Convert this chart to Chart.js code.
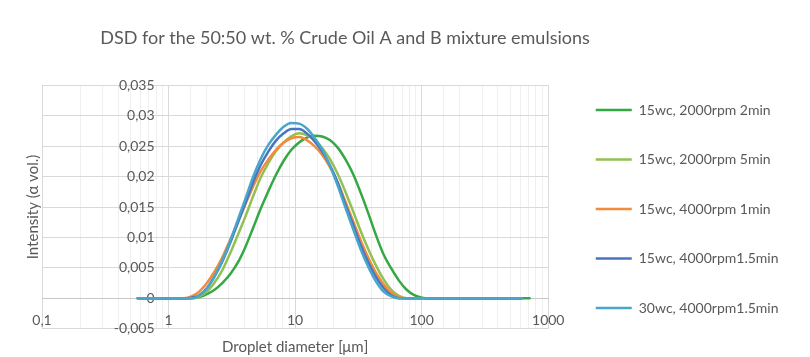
<!DOCTYPE html>
<html>
<head>
<meta charset="utf-8">
<title>DSD 50:50 Crude Oil A and B</title>
<script src="https://cdn.jsdelivr.net/npm/chart.js@4.4.1/dist/chart.umd.min.js"></script>
<style>
  html, body { margin: 0; padding: 0; background: #fff; }
  canvas { display: block; }
</style>
</head>
<body>
<canvas id="dsdChart" width="810" height="357"></canvas>
<script>
// size classes in µm (Mastersizer bins)
var sizes = [
  0.571, 0.656, 0.754, 0.868, 0.998, 1.148, 1.32, 1.518, 1.745, 2.009,
  2.31, 2.656, 3.054, 3.512, 4.039, 4.645, 5.342, 6.143, 7.065, 8.125,
  9.344, 10.746, 12.359, 14.213, 16.345, 18.797, 21.618, 24.862, 28.592, 32.882,
  37.815, 43.488, 50.013, 57.517, 66.147, 76.071, 87.484, 100.609, 115.704, 133.063,
  153.027, 175.986, 202.39, 232.755, 267.675, 307.836, 354.021, 407.136, 468.221, 538.469,
  619.258, 712.166
];

var wc15_2000_2min = [
  0, 0, 0, 0, 0, 0, 0, 0, 0.0002, 0.0007,
  0.0014, 0.0025, 0.0039, 0.0058, 0.0084, 0.0115, 0.0147, 0.0176, 0.0203, 0.0226,
  0.0244, 0.0256, 0.0264, 0.0267, 0.0266, 0.0260, 0.0248, 0.0229, 0.0205, 0.0174,
  0.0140, 0.0104, 0.0072, 0.0049, 0.0029, 0.0014, 0.0005, 0.0001, 0, 0,
  0, 0, 0, 0, 0, 0, 0, 0, 0, 0,
  0, 0
];

var wc15_2000_5min = [
  0, 0, 0, 0, 0, 0, 0, 0, 0.0003, 0.0011,
  0.0026, 0.0046, 0.0073, 0.0103, 0.0134, 0.0167, 0.0198, 0.0222, 0.0242, 0.0256,
  0.0266, 0.0271, 0.0268, 0.0260, 0.0247, 0.0229, 0.0205, 0.0176, 0.0144, 0.0111,
  0.0081, 0.0054, 0.0031, 0.0014, 0.0004, 0, 0, 0, 0, 0,
  0, 0, 0, 0, 0, 0, 0, 0, 0, 0,
  0, null
];

var wc15_4000_1min = [
  0, 0, 0, 0, 0, 0, 0, 0.0003, 0.0011, 0.0025,
  0.0044, 0.0067, 0.0095, 0.0124, 0.0154, 0.0183, 0.0209, 0.0228, 0.0244, 0.0256,
  0.0263, 0.0265, 0.0260, 0.0250, 0.0236, 0.0216, 0.0191, 0.0160, 0.0128, 0.0096,
  0.0067, 0.0042, 0.0023, 0.0009, 0.0002, 0, 0, 0, 0, 0,
  0, 0, 0, 0, 0, 0, 0, 0, 0, 0,
  0, null
];

var wc15_4000_15min = [
  0, 0, 0, 0, 0, 0, 0, 0.0001, 0.0005, 0.0017,
  0.0036, 0.0060, 0.0090, 0.0123, 0.0156, 0.0190, 0.0219, 0.0241, 0.0259, 0.0271,
  0.0278, 0.0278, 0.0271, 0.0258, 0.0241, 0.0219, 0.0191, 0.0155, 0.0122, 0.0088,
  0.0059, 0.0035, 0.0017, 0.0005, 0, 0, 0, 0, 0, 0,
  0, 0, 0, 0, 0, 0, 0, 0, 0, 0,
  0, null
];

var wc30_4000_15min = [
  0, 0, 0, 0, 0, 0, 0, 0, 0.0005, 0.0016,
  0.0036, 0.0062, 0.0093, 0.0128, 0.0163, 0.0199, 0.0229, 0.0252, 0.0269, 0.0282,
  0.0288, 0.0287, 0.0279, 0.0264, 0.0245, 0.0218, 0.0186, 0.0150, 0.0115, 0.0081,
  0.0052, 0.0028, 0.0011, 0.0003, 0, 0, 0, 0, 0, 0,
  0, 0, 0, 0, 0, 0, 0, 0, 0, 0,
  0, null
];

var seriesNames = [
  '15wc, 2000rpm 2min',
  '15wc, 2000rpm 5min',
  '15wc, 4000rpm 1min',
  '15wc, 4000rpm1.5min',
  '30wc, 4000rpm1.5min'
];
var seriesColors = ['#33a843', '#92c152', '#f38b3c', '#4a74c2', '#47a6c9'];

var textGrey = '#595959';
Chart.defaults.font.family = 'Lato, "Open Sans", sans-serif';
Chart.defaults.color = textGrey;

function isDecade(v) {
  var lg = Math.log10(v);
  return Math.abs(lg - Math.round(lg)) < 1e-6;
}

function makeSet(i, values) {
  return {
    label: seriesNames[i],
    data: values,
    borderColor: seriesColors[i],
    backgroundColor: seriesColors[i],
    borderWidth: 2.5,
    borderCapStyle: 'round',
    pointRadius: 0,
    fill: false,
    cubicInterpolationMode: 'monotone',
    order: 5 - i   // last series ends up on top
  };
}

// heading sits over plot + legend, not the whole canvas
var titleShift = {
  id: 'titleShift',
  afterLayout: function (chart) {
    chart.titleBlock.left = 0;
    chart.titleBlock.right = 690;
  }
};

var ctx = document.getElementById('dsdChart').getContext('2d');
var chart = new Chart(ctx, {
  type: 'line',
  data: {
    labels: sizes,
    datasets: [
      makeSet(0, wc15_2000_2min),
      makeSet(1, wc15_2000_5min),
      makeSet(2, wc15_4000_1min),
      makeSet(3, wc15_4000_15min),
      makeSet(4, wc30_4000_15min)
    ]
  },
  options: {
    responsive: false,
    animation: false,
    layout: { padding: { left: 0, right: 21.5, top: 0, bottom: 6.5 } },
    plugins: {
      title: {
        display: true,
        text: 'DSD for the 50:50 wt. % Crude Oil A and B mixture emulsions',
        color: textGrey,
        font: { size: 18, weight: 'normal', lineHeight: 1.2 },
        padding: { top: 27, bottom: 36.7 }
      },
      legend: {
        position: 'right',
        align: 'end',
        maxWidth: 300,
        labels: {
          usePointStyle: true,
          pointStyle: 'line',
          pointStyleWidth: 36,
          padding: 35.5,
          color: textGrey,
          font: { size: 14 },
          sort: function (a, b) { return a.datasetIndex - b.datasetIndex; }
        }
      },
      tooltip: { enabled: false }
    },
    scales: {
      x: {
        type: 'logarithmic',
        position: { y: 0 },
        min: 0.1,
        max: 1000,
        grid: {
          drawTicks: false,
          color: function (c) { return isDecade(c.tick.value) ? '#d9d9d9' : '#efefef'; }
        },
        border: { display: true, color: '#c8c8c8', width: 1 },
        ticks: {
          autoSkip: false,
          maxRotation: 0,
          padding: 14,
          font: { size: 14 },
          callback: function (v) { return isDecade(v) ? String(v).replace('.', ',') : ''; }
        }
      },
      y: {
        type: 'linear',
        // labels sit just left of the 1 µm line
        position: { x: 0.775 },
        min: -0.005,
        max: 0.035,
        grid: { drawTicks: false, color: '#d9d9d9' },
        border: { display: false },
        ticks: {
          stepSize: 0.005,
          padding: 0,
          font: { size: 14 },
          callback: function (v) { return String(Math.round(v * 1000) / 1000).replace('.', ','); }
        }
      },
      yTitle: {
        type: 'linear',
        position: 'left',
        min: 0,
        max: 1,
        grid: { display: false, drawTicks: false },
        border: { display: false },
        ticks: { display: false },
        title: {
          display: true,
          text: 'Intensity (α vol.)',
          font: { size: 15, lineHeight: 1.2 },
          padding: { top: 24, bottom: 0 }
        }
      },
      xTitle: {
        type: 'linear',
        position: 'bottom',
        min: 0,
        max: 1,
        grid: { display: false, drawTicks: false },
        border: { display: false },
        ticks: { display: false },
        title: {
          display: true,
          text: 'Droplet diameter [μm]',
          font: { size: 15, lineHeight: 1.2 },
          padding: { top: 9.3, bottom: -5.5 }
        }
      },
      gap: {
        type: 'linear',
        axis: 'y',
        position: 'right',
        min: 0,
        max: 1,
        grid: { display: false, drawTicks: false },
        border: { display: false },
        ticks: { display: false },
        afterFit: function (scale) { scale.width = 12; }
      }
    }
  },
  plugins: [titleShift]
});
</script>
</body>
</html>
